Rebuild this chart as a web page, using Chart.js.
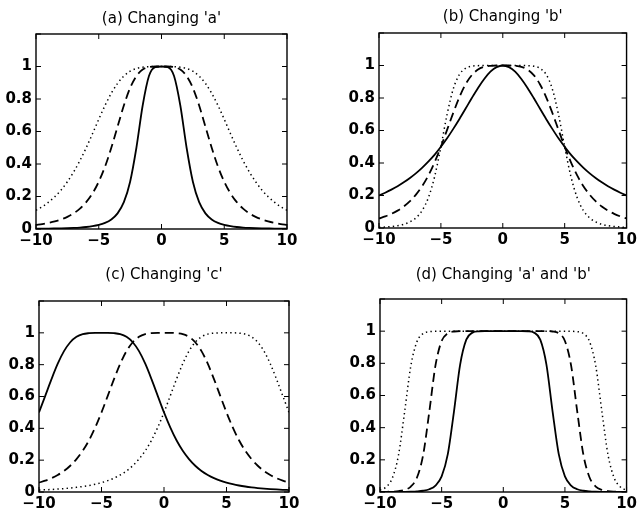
<!DOCTYPE html>
<html>
<head>
<meta charset="utf-8">
<script src="https://cdn.jsdelivr.net/npm/chart.js@4"></script>
<style>
html,body{margin:0;padding:0;background:#fff;}
#wrap{position:relative;width:640px;height:513px;background:#fff;}
#wrap canvas{position:absolute;left:0;top:0;}
</style>
</head>
<body>
<div id="wrap">
<canvas id="pa" width="640" height="513"></canvas>
<canvas id="pb" width="640" height="513"></canvas>
<canvas id="pc" width="640" height="513"></canvas>
<canvas id="pd" width="640" height="513"></canvas>
</div>
<script>
// ---- data (x from -10 to 10, step 0.5) ----
const xs = [-10,-9.5,-9,-8.5,-8,-7.5,-7,-6.5,-6,-5.5,-5,-4.5,-4,-3.5,-3,-2.5,-2,-1.5,-1,-0.5,0,0.5,1,1.5,2,2.5,3,3.5,4,4.5,5,5.5,6,6.5,7,7.5,8,8.5,9,9.5,10];
const xTicks = [-10,-5,0,5,10];
const yTicks = [0,0.2,0.4,0.6,0.8,1];
const titles = ["(a) Changing 'a'", "(b) Changing 'b'", "(c) Changing 'c'", "(d) Changing 'a' and 'b'"];

// (a) changing a
const aSolid  = [0.0016,0.002,0.0024,0.0031,0.0039,0.005,0.0066,0.0089,0.0122,0.0172,0.025,0.0376,0.0588,0.0963,0.165,0.291,0.5,0.760,0.941,0.996,1,0.996,0.941,0.760,0.5,0.291,0.165,0.0963,0.0588,0.0376,0.025,0.0172,0.0122,0.0089,0.0066,0.005,0.0039,0.0031,0.0024,0.002,0.0016];
const aDashed = [0.025,0.0305,0.0376,0.0468,0.0588,0.0749,0.0963,0.125,0.165,0.219,0.291,0.384,0.5,0.630,0.760,0.868,0.941,0.981,0.996,1.000,1,1.000,0.996,0.981,0.941,0.868,0.760,0.630,0.5,0.384,0.291,0.219,0.165,0.125,0.0963,0.0749,0.0588,0.0468,0.0376,0.0305,0.025];
const aDotted = [0.115,0.137,0.165,0.199,0.240,0.291,0.351,0.421,0.5,0.586,0.675,0.760,0.835,0.896,0.941,0.971,0.988,0.996,0.999,1.000,1,1.000,0.999,0.996,0.988,0.971,0.941,0.896,0.835,0.760,0.675,0.586,0.5,0.421,0.351,0.291,0.240,0.199,0.165,0.137,0.115];

// (b) changing b
const bSolid  = [0.2,0.217,0.236,0.257,0.281,0.308,0.338,0.372,0.410,0.452,0.5,0.552,0.610,0.671,0.735,0.8,0.862,0.917,0.962,0.990,1,0.990,0.962,0.917,0.862,0.8,0.735,0.671,0.610,0.552,0.5,0.452,0.410,0.372,0.338,0.308,0.281,0.257,0.236,0.217,0.2];
const bDashed = [0.0588,0.0713,0.087,0.107,0.132,0.165,0.207,0.259,0.325,0.406,0.5,0.604,0.709,0.806,0.885,0.941,0.975,0.992,0.998,1.000,1,1.000,0.998,0.992,0.975,0.941,0.885,0.806,0.709,0.604,0.5,0.406,0.325,0.259,0.207,0.165,0.132,0.107,0.087,0.0713,0.0588];
const bDotted = [0.0039,0.0059,0.009,0.0141,0.0228,0.0376,0.0635,0.109,0.189,0.318,0.5,0.699,0.856,0.945,0.983,0.996,0.999,1.000,1,1,1,1,1,1.000,0.999,0.996,0.983,0.945,0.856,0.699,0.5,0.318,0.189,0.109,0.0635,0.0376,0.0228,0.0141,0.009,0.0059,0.0039];

// (c) changing c
const cSolid  = [0.5,0.604,0.709,0.806,0.885,0.941,0.975,0.992,0.998,1.000,1,1.000,0.998,0.992,0.975,0.941,0.885,0.806,0.709,0.604,0.5,0.406,0.325,0.259,0.207,0.165,0.132,0.107,0.087,0.0713,0.0588,0.0489,0.0409,0.0345,0.0293,0.025,0.0214,0.0185,0.016,0.0139,0.0122];
const cDashed = [0.0588,0.0713,0.087,0.107,0.132,0.165,0.207,0.259,0.325,0.406,0.5,0.604,0.709,0.806,0.885,0.941,0.975,0.992,0.998,1.000,1,1.000,0.998,0.992,0.975,0.941,0.885,0.806,0.709,0.604,0.5,0.406,0.325,0.259,0.207,0.165,0.132,0.107,0.087,0.0713,0.0588];
const cDotted = [0.0122,0.0139,0.016,0.0185,0.0214,0.025,0.0293,0.0345,0.0409,0.0489,0.0588,0.0713,0.087,0.107,0.132,0.165,0.207,0.259,0.325,0.406,0.5,0.604,0.709,0.806,0.885,0.941,0.975,0.992,0.998,1.000,1,1.000,0.998,0.992,0.975,0.941,0.885,0.806,0.709,0.604,0.5];

// (d) changing a and b
const dSolid  = [0.0001,0.0002,0.0003,0.0005,0.001,0.0019,0.0037,0.0077,0.017,0.0397,0.097,0.235,0.5,0.792,0.947,0.991,0.999,1.000,1,1,1,1,1,1.000,0.999,0.991,0.947,0.792,0.5,0.235,0.097,0.0397,0.017,0.0077,0.0037,0.0019,0.001,0.0005,0.0003,0.0002,0.0001];
const dDashed = [0.0005,0.001,0.0023,0.0054,0.0132,0.034,0.09,0.231,0.5,0.787,0.939,0.987,0.998,1.000,1.000,1,1,1,1,1,1,1,1,1,1,1,1.000,1.000,0.998,0.987,0.939,0.787,0.5,0.231,0.09,0.034,0.0132,0.0054,0.0023,0.001,0.0005];
const dDotted = [0.0114,0.031,0.087,0.229,0.5,0.784,0.935,0.985,0.997,0.999,1,1,1,1,1,1,1,1,1,1,1,1,1,1,1,1,1,1,1,1,1,0.999,0.997,0.985,0.935,0.784,0.5,0.229,0.087,0.031,0.0114];

// ---- layout ----
const W = 640, H = 513;
const Y_W = 36, X_H = 22;
const panels = [
  {id:'pa', area:{l:36, r:287, t:34, b:229}, titleY:19, series:[aSolid,aDashed,aDotted], title:titles[0]},
  {id:'pb', area:{l:379, r:627, t:33, b:228}, titleY:17, series:[bSolid,bDashed,bDotted], title:titles[1]},
  {id:'pc', area:{l:39, r:289, t:301, b:492}, titleY:275, series:[cSolid,cDashed,cDotted], title:titles[2]},
  {id:'pd', area:{l:380, r:629, t:299, b:492}, titleY:275, series:[dSolid,dDashed,dDotted], title:titles[3]}
];
const styles = [
  {borderDash:[], borderWidth:1.8},
  {borderDash:[9,5], borderWidth:1.8},
  {borderDash:[1.4,3.2], borderWidth:1.5}
];

const framePlugin = {
  id:'frame',
  afterDraw(chart, args, opts){
    const ctx = chart.ctx, ca = chart.chartArea;
    const xs_ = chart.scales.x, ys_ = chart.scales.y;
    ctx.save();
    ctx.strokeStyle = '#000';
    ctx.lineWidth = 1.4;
    ctx.strokeRect(ca.left, ca.top, ca.right - ca.left, ca.bottom - ca.top);
    const tl = 5;
    ctx.lineWidth = 1;
    ctx.beginPath();
    xTicks.forEach(v => {
      const px = xs_.getPixelForValue(v);
      ctx.moveTo(px, ca.bottom); ctx.lineTo(px, ca.bottom - tl);
      ctx.moveTo(px, ca.top); ctx.lineTo(px, ca.top + tl);
    });
    [0,0.2,0.4,0.6,0.8,1,1.2].forEach(v => {
      const py = ys_.getPixelForValue(v);
      ctx.moveTo(ca.left, py); ctx.lineTo(ca.left + tl, py);
      ctx.moveTo(ca.right, py); ctx.lineTo(ca.right - tl, py);
    });
    ctx.stroke();
    ctx.fillStyle = '#000';
    ctx.font = '15px "DejaVu Sans"';
    ctx.textAlign = 'center';
    ctx.textBaseline = 'middle';
    ctx.fillText(opts.text, (ca.left + ca.right) / 2, opts.y);
    ctx.restore();
  }
};

const tickFont = {family:'"DejaVu Sans"', size:15, weight:'bold'};

panels.forEach(p => {
  const a = p.area;
  const datasets = p.series.map((s, i) => ({
    data: xs.map((x, k) => ({x: x, y: s[k]})),
    showLine: true,
    borderColor: '#000',
    backgroundColor: '#000',
    borderWidth: styles[i].borderWidth,
    borderDash: styles[i].borderDash,
    pointRadius: 0,
    fill: false,
    cubicInterpolationMode: 'monotone'
  }));
  new Chart(document.getElementById(p.id), {
    type: 'scatter',
    data: {datasets},
    plugins: [framePlugin],
    options: {
      responsive: false,
      animation: false,
      events: [],
      layout: {padding: {left: a.l - Y_W, right: W - a.r, top: a.t, bottom: H - a.b - X_H}},
      plugins: {
        legend: {display: false},
        tooltip: {enabled: false},
        frame: {text: p.title, y: p.titleY}
      },
      scales: {
        x: {
          type: 'linear', min: -10, max: 10,
          grid: {display: false, drawTicks: false},
          border: {display: false},
          ticks: {stepSize: 5, color: '#000', font: tickFont, padding: 3, maxRotation: 0, autoSkip: false,
                  callback: v => String(v).replace('-', '\u2212')},
          afterFit: s => { s.height = X_H; }
        },
        y: {
          type: 'linear', min: 0, max: 1.2,
          grid: {display: false, drawTicks: false},
          border: {display: false},
          ticks: {stepSize: 0.2, color: '#000', font: tickFont, padding: 4, autoSkip: false,
                  callback: v => (v > 1.01 ? '' : String(Number(v.toFixed(1))))},
          afterFit: s => { s.width = Y_W; }
        }
      }
    }
  });
});
</script>
</body>
</html>
